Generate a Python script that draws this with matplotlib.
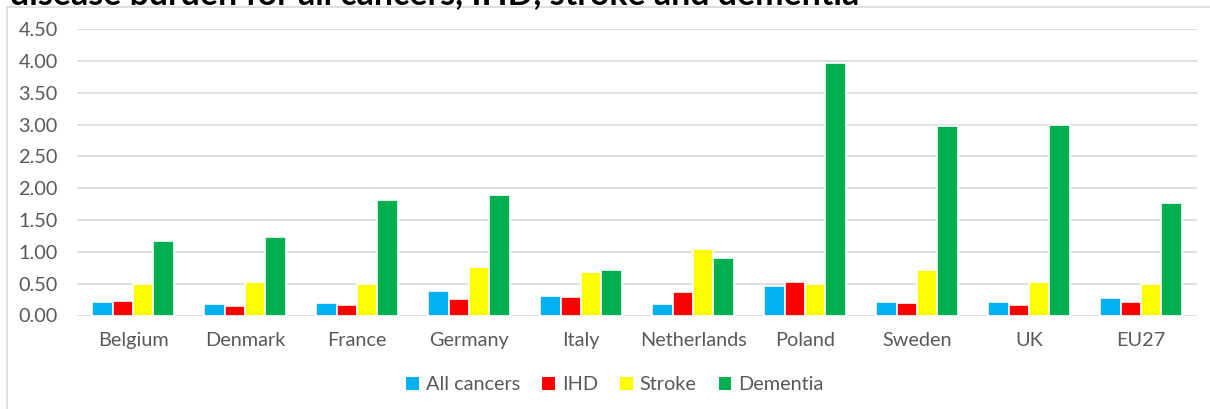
import matplotlib
matplotlib.use("Agg")
import matplotlib.pyplot as plt
from matplotlib.patches import Rectangle
import numpy as np

plt.rcParams['font.family'] = ['Lato', 'DejaVu Sans']

countries = ['Belgium', 'Denmark', 'France', 'Germany', 'Italy',
             'Netherlands', 'Poland', 'Sweden', 'UK', 'EU27']
all_cancers = [0.21, 0.18, 0.20, 0.38, 0.31, 0.18, 0.46, 0.21, 0.21, 0.28]
ihd = [0.23, 0.145, 0.16, 0.255, 0.29, 0.365, 0.53, 0.19, 0.17, 0.21]
stroke = [0.49, 0.53, 0.49, 0.757, 0.69, 1.04, 0.49, 0.715, 0.52, 0.495]
dementia = [1.165, 1.24, 1.82, 1.885, 0.71, 0.90, 3.96, 2.98, 3.00, 1.77]

series_names = ['All cancers', 'IHD', 'Stroke', 'Dementia']
colors = ['#00B0F0', '#FF0000', '#FFFF00', '#00B050']
yticks = [0.0, 0.5, 1.0, 1.5, 2.0, 2.5, 3.0, 3.5, 4.0, 4.5]

fig = plt.figure(figsize=(12.10, 4.09), dpi=100)
ax = fig.add_axes([77/1210, 93.5/409, 1120/1210, 286.5/409])

x = np.arange(len(countries))
step = 0.183
for i, (vals, name, col) in enumerate(zip([all_cancers, ihd, stroke, dementia], series_names, colors)):
    ax.bar(x + (i - 1.5) * step, vals, width=step, color=col, edgecolor='white',
           linewidth=1.2, label=name, zorder=3)

ax.set_xlim(-0.5, len(countries) - 0.5)
ax.set_ylim(0, 4.5)
ax.set_yticks(yticks)
ax.set_yticklabels([f'{v:.2f}' for v in yticks])
ax.set_xticks(x)
ax.set_xticklabels(countries)
ax.grid(axis='y', color='#d9d9d9', linewidth=1.2, zorder=0)
for s in ax.spines.values():
    s.set_visible(False)
ax.tick_params(axis='both', length=0, labelsize=14.3, labelcolor='#595959')
ax.tick_params(axis='y', pad=14)
ax.tick_params(axis='x', pad=12)

leg = fig.legend(loc='center', bbox_to_anchor=(615/1210, 1 - 385/409), ncol=4,
                 frameon=False, fontsize=14.3, handlelength=0.65, handleheight=0.65,
                 handletextpad=0.35, columnspacing=1.1, borderpad=0)
for t in leg.get_texts():
    t.set_color('#595959')
for h in leg.legend_handles:
    h.set_edgecolor('none')

# chart border
fig.patches.append(Rectangle((7/1210, -0.1), 1.2, 0.1 + 1 - 6.7/409, transform=fig.transFigure,
                             fill=False, edgecolor='#d9d9d9', linewidth=1.2))

# title is cut off at the top, as in the source image
fig.text(10/1210, 1 - 4.5/409, 'disease burden for all cancers, IHD, stroke and dementia',
         fontsize=24.4, fontweight='bold', color='black', ha='left', va='baseline')

fig.savefig('out.png', dpi=100)
